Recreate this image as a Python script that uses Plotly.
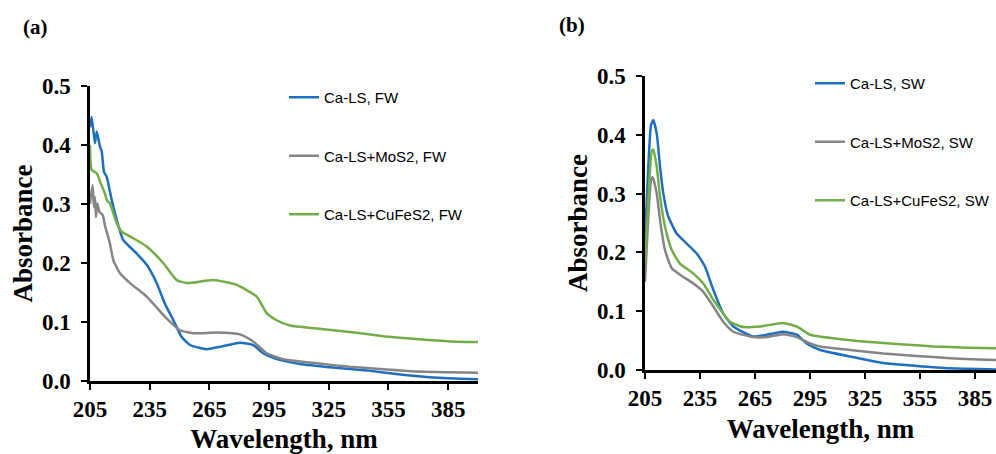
import plotly.graph_objects as go

# ---------------- Panel (a): FW ----------------
a_blue_x = [205, 205.8, 207.5, 208.4, 210, 210.9, 212, 213.4, 215.9, 219.2, 221.7, 228.5, 233.5, 238.5,
            242.5, 246.9, 251, 255.3, 263.6, 270.3, 280.4, 287, 292, 298.8, 310.5, 327, 344, 361, 377.5, 400]
a_blue_y = [0.43, 0.448, 0.403, 0.423, 0.397, 0.389, 0.355, 0.346, 0.307, 0.264, 0.239, 0.216, 0.197, 0.166,
            0.132, 0.103, 0.075, 0.061, 0.054, 0.058, 0.065, 0.061, 0.047, 0.037, 0.029, 0.023, 0.018, 0.011, 0.006, 0.003]

a_grey_x = [205, 206.3, 207, 207.5, 208, 208.7, 209.7, 211.4, 212.5, 215, 216.7, 220, 225.1, 233.5,
            243.5, 250.2, 256.9, 268.7, 280.4, 287, 293.8, 302.1, 319, 335.7, 352.4, 369, 400]
a_grey_y = [0.30, 0.332, 0.295, 0.312, 0.278, 0.301, 0.287, 0.281, 0.264, 0.233, 0.205, 0.183, 0.166, 0.143,
            0.106, 0.086, 0.081, 0.082, 0.079, 0.067, 0.047, 0.037, 0.030, 0.024, 0.020, 0.016, 0.014]

a_green_x = [205, 205.8, 208.4, 210.4, 211.4, 212.5, 213.4, 215, 218.4, 220.9, 226.8, 233.5, 241.8, 248.6, 253.6,
             267, 278.7, 288.8, 293.8, 298.8, 305.5, 318.9, 335.7, 352.4, 369, 385.9, 400]
a_green_y = [0.40, 0.358, 0.352, 0.335, 0.327, 0.318, 0.307, 0.301, 0.268, 0.253, 0.242, 0.228, 0.200, 0.171, 0.166,
             0.171, 0.163, 0.143, 0.115, 0.103, 0.094, 0.089, 0.083, 0.076, 0.071, 0.067, 0.066]

# ---------------- Panel (b): SW ----------------
b_blue_x = [205, 206.8, 208.3, 209.5, 211.4, 213.2, 215, 217.7, 222.3, 227.7, 233.2, 237.7, 242.3, 247.7,
            253.2, 264.1, 271.4, 280.4, 287.8, 293.2, 300.5, 316.8, 335, 353.2, 371.4, 396.5]
b_blue_y = [0.221, 0.346, 0.417, 0.425, 0.402, 0.346, 0.300, 0.261, 0.232, 0.215, 0.198, 0.176, 0.136, 0.096,
            0.074, 0.057, 0.060, 0.065, 0.060, 0.045, 0.034, 0.023, 0.012, 0.007, 0.003, 0.001]

b_grey_x = [205, 206.8, 208.3, 209.2, 211.4, 213.2, 215.9, 219.6, 224.1, 231.4, 236.8, 242.3, 247.7,
            253.2, 264.1, 271.4, 280.4, 287.8, 295, 300.5, 316.8, 335, 353.2, 371.4, 396.5]
b_grey_y = [0.150, 0.261, 0.323, 0.328, 0.300, 0.255, 0.204, 0.173, 0.162, 0.147, 0.133, 0.108, 0.082,
            0.065, 0.056, 0.056, 0.061, 0.056, 0.045, 0.040, 0.034, 0.028, 0.024, 0.020, 0.017]

b_green_x = [205, 206.8, 208.6, 209.5, 211.4, 213.2, 215.9, 219.6, 224.1, 231.4, 236.8, 242.3, 247.7,
             251.4, 258.6, 267.7, 280.4, 287.8, 295, 307.7, 325.9, 344.1, 362.3, 380.5, 396.5]
b_green_y = [0.181, 0.289, 0.371, 0.375, 0.346, 0.295, 0.244, 0.204, 0.181, 0.164, 0.147, 0.119, 0.096,
             0.082, 0.073, 0.074, 0.080, 0.074, 0.060, 0.054, 0.048, 0.044, 0.040, 0.038, 0.037]

names_a = ["Ca-LS, FW", "Ca-LS+MoS2, FW", "Ca-LS+CuFeS2, FW"]
names_b = ["Ca-LS, SW", "Ca-LS+MoS2, SW", "Ca-LS+CuFeS2, SW"]
colors = ["#1f6fc1", "#858585", "#72ad48"]
x_ticks = [205, 235, 265, 295, 325, 355, 385]
y_ticks = [0.0, 0.1, 0.2, 0.3, 0.4, 0.5]

W, H = 996, 454
fig = go.Figure()

series_a = [(a_blue_x, a_blue_y), (a_grey_x, a_grey_y), (a_green_x, a_green_y)]
series_b = [(b_blue_x, b_blue_y), (b_grey_x, b_grey_y), (b_green_x, b_green_y)]

for i, ((xs, ys), nm) in enumerate(zip(series_a, names_a)):
    fig.add_trace(go.Scatter(x=xs, y=ys, mode="lines", name=nm, xaxis="x", yaxis="y",
                             line=dict(color=colors[i], width=2.5, shape="spline", smoothing=0.5),
                             legend="legend", legendgroup="a%d" % i))
for i, ((xs, ys), nm) in enumerate(zip(series_b, names_b)):
    fig.add_trace(go.Scatter(x=xs, y=ys, mode="lines", name=nm, xaxis="x2", yaxis="y2",
                             line=dict(color=colors[i], width=2.5, shape="spline", smoothing=0.5),
                             legend="legend2", legendgroup="b%d" % i))

serif = "Liberation Serif, Times New Roman, serif"
tickfont = dict(family=serif, size=23, color="black", weight="bold")
titlefont = dict(family=serif, size=27, color="black", weight="bold")

def xax(domain, rng, anchor, standoff):
    return dict(domain=domain, range=rng, anchor=anchor, tickvals=x_ticks, ticks="outside", ticklen=6,
                tickwidth=2, tickcolor="black", showline=True, linecolor="black", linewidth=2.5,
                showgrid=False, zeroline=False, tickfont=tickfont, automargin=False,
                title=dict(text="Wavelength, nm", font=titlefont, standoff=standoff))

def yax(domain, anchor):
    return dict(domain=domain, range=[0, 0.5], anchor=anchor, tickvals=y_ticks, tickformat=".1f",
                ticks="outside", ticklen=6, tickwidth=2, tickcolor="black", showline=True,
                linecolor="black", linewidth=2.5, showgrid=False, zeroline=False, tickfont=tickfont,
                ticklabelstandoff=6, automargin=False,
                title=dict(text="Absorbance", font=titlefont, standoff=2))

legfont = dict(family="Liberation Sans, Arial, sans-serif", size=15, color="black")

fig.update_layout(
    width=W, height=H, margin=dict(l=0, r=0, t=0, b=0, autoexpand=False),
    paper_bgcolor="white", plot_bgcolor="white",
    xaxis=xax([90 / W, 478 / W], [205, 400], "y", 23),
    yaxis=yax([1 - 381 / H, 1 - 86 / H], "x"),
    xaxis2=xax([645 / W, 1.0], [205, 396.5], "y2", 9),
    yaxis2=yax([1 - 370 / H, 1 - 76 / H], "x2"),
    legend=dict(x=284 / W, y=1 - 81 / H, xanchor="left", yanchor="top", font=legfont,
                tracegroupgap=36, bgcolor="rgba(0,0,0,0)", itemwidth=30),
    legend2=dict(x=810 / W, y=1 - 67 / H, xanchor="left", yanchor="top", font=legfont,
                 tracegroupgap=36, bgcolor="rgba(0,0,0,0)", itemwidth=30),
    annotations=[
        dict(text="<b>(a)</b>", x=35 / W, y=1 - 27 / H, xref="paper", yref="paper", showarrow=False,
             xanchor="center", yanchor="middle", font=dict(family=serif, size=21, color="black")),
        dict(text="<b>(b)</b>", x=572 / W, y=1 - 25 / H, xref="paper", yref="paper", showarrow=False,
             xanchor="center", yanchor="middle", font=dict(family=serif, size=21, color="black")),
    ],
)

fig.write_html("out.html", config={"displayModeBar": False},
               post_script="document.body.style.margin='0';document.body.style.overflow='hidden';")
